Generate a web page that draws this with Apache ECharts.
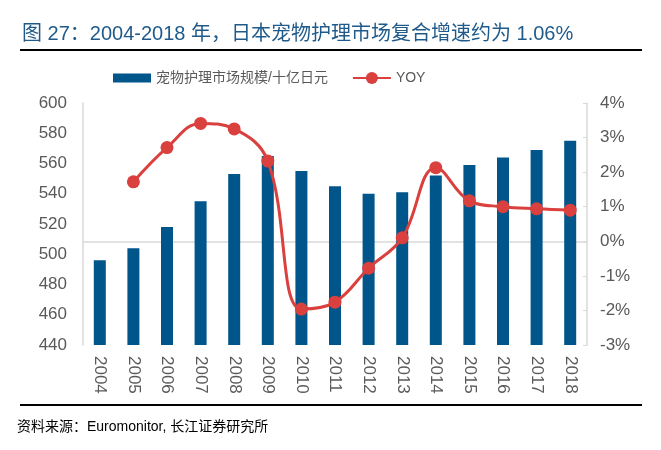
<!DOCTYPE html>
<html><head><meta charset="utf-8">
<script src="https://cdn.jsdelivr.net/npm/echarts@6/dist/echarts.min.js"></script>
<style>html,body{margin:0;padding:0;background:#fff}#c{width:661px;height:450px}</style>
</head><body><div id="c"></div>
<script>
const categories = ['2004','2005','2006','2007','2008','2009','2010','2011','2012','2013','2014','2015','2016','2017','2018'];
const marketSize = [496, 504, 518, 535, 553, 565, 555, 545, 540, 541, 552, 559, 564, 569, 575];
const yoy = [null, 1.72, 2.71, 3.41, 3.25, 2.32, -1.96, -1.76, -0.78, 0.1, 2.13, 1.17, 1.0, 0.94, 0.9];
const leftTicks = [440, 600, 20];
const rightTicks = [-3, 4, 1];

const chart = echarts.init(document.getElementById('c'));
const font = '"Liberation Sans",Arial,"Noto Sans CJK SC",sans-serif';
chart.setOption({
  animation: false,
  textStyle: {fontFamily: font},
  title: {
    text: '图 27：2004-2018 年，日本宠物护理市场复合增速约为 1.06%',
    left: 17, top: 19,
    textStyle: {fontSize: 20, fontWeight: 'normal', color: '#1f5a8a', fontFamily: font}
  },
  graphic: [
    {type: 'rect', shape: {x: 20, y: 49, width: 622, height: 2}, style: {fill: '#000'}},
    {type: 'rect', shape: {x: 20, y: 404, width: 622, height: 2}, style: {fill: '#000'}},
    {type: 'text', left: 17, top: 420, style: {text: '资料来源：Euromonitor, 长江证券研究所', fontSize: 14, fill: '#000', fontFamily: font}}
  ],
  legend: {
    top: 66, left: 108,
    itemGap: 24, itemWidth: 38, itemHeight: 15,
    textStyle: {fontSize: 14, color: '#595959'},
    data: [
      {name: '宠物护理市场规模/十亿日元', icon: 'path://M0,0 L38,0 L38,9 L0,9 Z'},
      {name: 'YOY'}
    ]
  },
  grid: {left: 83, right: 74, top: 103, bottom: 105},
  xAxis: {
    type: 'category', data: categories,
    axisLine: {lineStyle: {color: '#d9d9d9', width: 1.5}},
    axisTick: {show: false},
    axisLabel: {rotate: -90, fontSize: 17, color: '#595959', margin: 11}
  },
  yAxis: [
    {
      type: 'value', min: leftTicks[0], max: leftTicks[1], interval: leftTicks[2],
      axisLine: {show: true, lineStyle: {color: '#d9d9d9', width: 1.5}},
      axisTick: {show: false},
      splitLine: {show: false},
      axisLabel: {fontSize: 17, color: '#595959', margin: 16}
    },
    {
      type: 'value', min: rightTicks[0], max: rightTicks[1], interval: rightTicks[2],
      axisLine: {show: true, lineStyle: {color: '#d9d9d9', width: 1.5}},
      axisTick: {show: true, inside: true, length: 4, lineStyle: {color: '#d9d9d9'}},
      splitLine: {show: false},
      axisLabel: {fontSize: 17, color: '#595959', margin: 13, formatter: v => v + '%'}
    }
  ],
  series: [
    {
      name: '宠物护理市场规模/十亿日元', type: 'bar', data: marketSize,
      barWidth: 12, itemStyle: {color: '#00558a'}
    },
    {
      name: 'YOY', type: 'line', yAxisIndex: 1, data: yoy,
      smooth: 0.4, symbol: 'circle', symbolSize: 13,
      lineStyle: {color: '#d9403e', width: 3},
      itemStyle: {color: '#d9403e'}
    }
  ]
});
</script></body></html>
